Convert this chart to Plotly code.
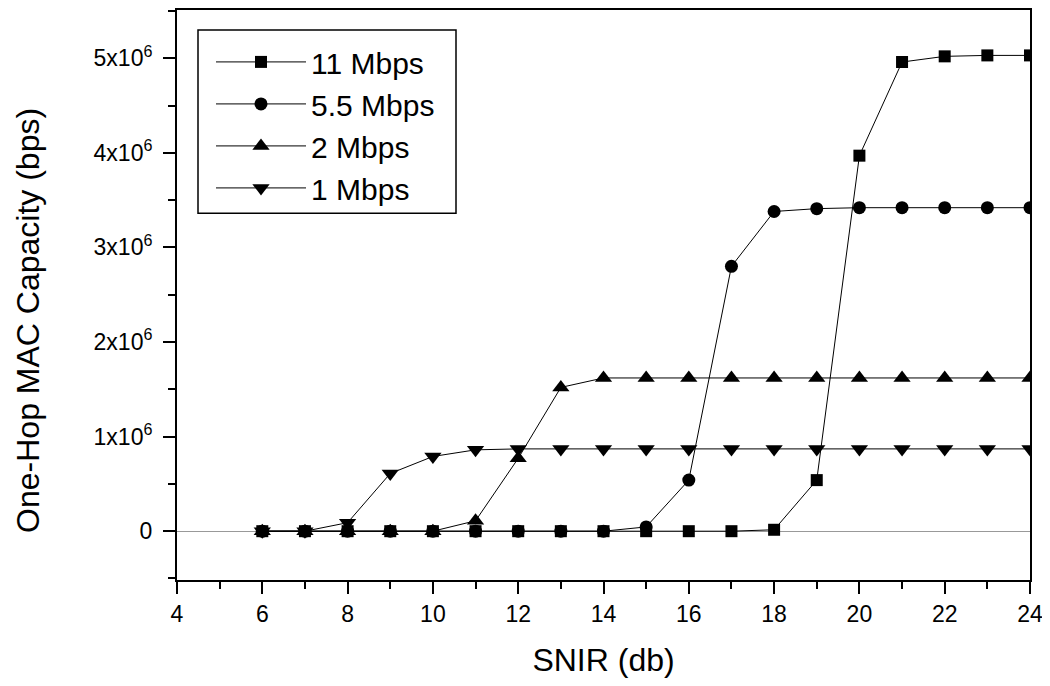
import plotly.graph_objects as go

snir = [6, 7, 8, 9, 10, 11, 12, 13, 14, 15, 16, 17, 18, 19, 20, 21, 22, 23, 24]

cap_11 = [0, 0, 0, 0, 0, 0, 0, 0, 0, 0, 0, 0, 0.015e6, 0.54e6, 3.97e6, 4.96e6, 5.02e6, 5.03e6, 5.03e6]
cap_55 = [0, 0, 0, 0, 0, 0, 0, 0, 0, 0.045e6, 0.54e6, 2.80e6, 3.38e6, 3.41e6, 3.42e6, 3.42e6, 3.42e6, 3.42e6, 3.42e6]
cap_2 = [0, 0, 0, 0, 0, 0.11e6, 0.77e6, 1.52e6, 1.62e6, 1.62e6, 1.62e6, 1.62e6, 1.62e6, 1.62e6, 1.62e6, 1.62e6, 1.62e6, 1.62e6, 1.62e6]
cap_1 = [0, 0, 0.09e6, 0.61e6, 0.79e6, 0.86e6, 0.87e6, 0.87e6, 0.87e6, 0.87e6, 0.87e6, 0.87e6, 0.87e6, 0.87e6, 0.87e6, 0.87e6, 0.87e6, 0.87e6, 0.87e6]

series_names = ["11 Mbps", "5.5 Mbps", "2 Mbps", "1 Mbps"]
series_vals = [cap_11, cap_55, cap_2, cap_1]
symbols = ["square", "circle", "triangle-up", "triangle-down"]
sizes = [12, 13, 15, 15]

y_tickvals = [0, 1e6, 2e6, 3e6, 4e6, 5e6]
y_ticktext = ["0", "1x10<sup>6</sup>", "2x10<sup>6</sup>", "3x10<sup>6</sup>", "4x10<sup>6</sup>", "5x10<sup>6</sup>"]
x_tickvals = [4, 6, 8, 10, 12, 14, 16, 18, 20, 22, 24]

FONT = "Liberation Sans, Arial, sans-serif"

# page body has an 8px margin; figure placed so plot area spans x 177..1030, y 8..580
W, H = 1042, 670
ML, MR, MT, MB = 169, 20, 0, 98
PX0, PY0 = 177, 8
PW, PH = 1030 - 177, 580 - 8


def px(xp):
    return (xp - PX0) / PW


def py(yp):
    return (PY0 + PH - yp) / PH


fig = go.Figure()
for name, vals, sym, sz in zip(series_names, series_vals, symbols, sizes):
    fig.add_trace(go.Scatter(
        x=snir, y=vals, name=name, mode="lines+markers",
        line=dict(color="black", width=1),
        marker=dict(symbol=sym, size=sz, color="black", line=dict(width=0)),
    ))

fig.update_layout(
    width=W, height=H,
    margin=dict(l=ML, r=MR, t=MT, b=MB),
    paper_bgcolor="white", plot_bgcolor="white",
    font=dict(family=FONT, color="black", size=23),
    showlegend=True,
    legend=dict(
        x=px(211), y=py(34), xanchor="left", yanchor="top",
        borderwidth=0, bgcolor="rgba(0,0,0,0)",
        font=dict(size=30, family=FONT),
        tracegroupgap=0, itemwidth=90,
    ),
    shapes=[dict(
        type="rect", xref="paper", yref="paper",
        x0=px(198), x1=px(456), y0=py(212), y1=py(28),
        line=dict(color="black", width=1.5), fillcolor="rgba(0,0,0,0)", layer="above",
    )],
    annotations=[dict(
        text="One-Hop MAC Capacity (bps)", xref="paper", yref="paper",
        x=px(28), y=py(320), xanchor="center", yanchor="middle",
        textangle=-90, showarrow=False, font=dict(size=32, family=FONT),
    )],
    xaxis=dict(
        range=[4, 24], tickvals=x_tickvals, ticks="outside", ticklen=12, tickwidth=2,
        tickcolor="black", showline=True, linecolor="black", linewidth=2, mirror=True,
        showgrid=False, zeroline=False, ticklabeloverflow="allow",
        tickfont=dict(size=23, family=FONT),
        minor=dict(dtick=1, ticks="outside", ticklen=7, tickwidth=2, tickcolor="black", showgrid=False),
        title=dict(text="SNIR (db)", font=dict(size=32, family=FONT), standoff=25),
    ),
    yaxis=dict(
        range=[-0.516e6, 5.51e6], tickvals=y_tickvals, ticktext=y_ticktext,
        ticks="outside", ticklen=12, tickwidth=2, tickcolor="black",
        showline=True, linecolor="black", linewidth=2, mirror=True,
        showgrid=False, zeroline=True, zerolinecolor="#999999", zerolinewidth=1,
        tickfont=dict(size=23, family=FONT), ticklabelstandoff=6, ticklabeloverflow="allow",
        minor=dict(dtick=0.5e6, tick0=0, ticks="outside", ticklen=7, tickwidth=2, tickcolor="black", showgrid=False),
    ),
)

fig.write_html("out.html")
